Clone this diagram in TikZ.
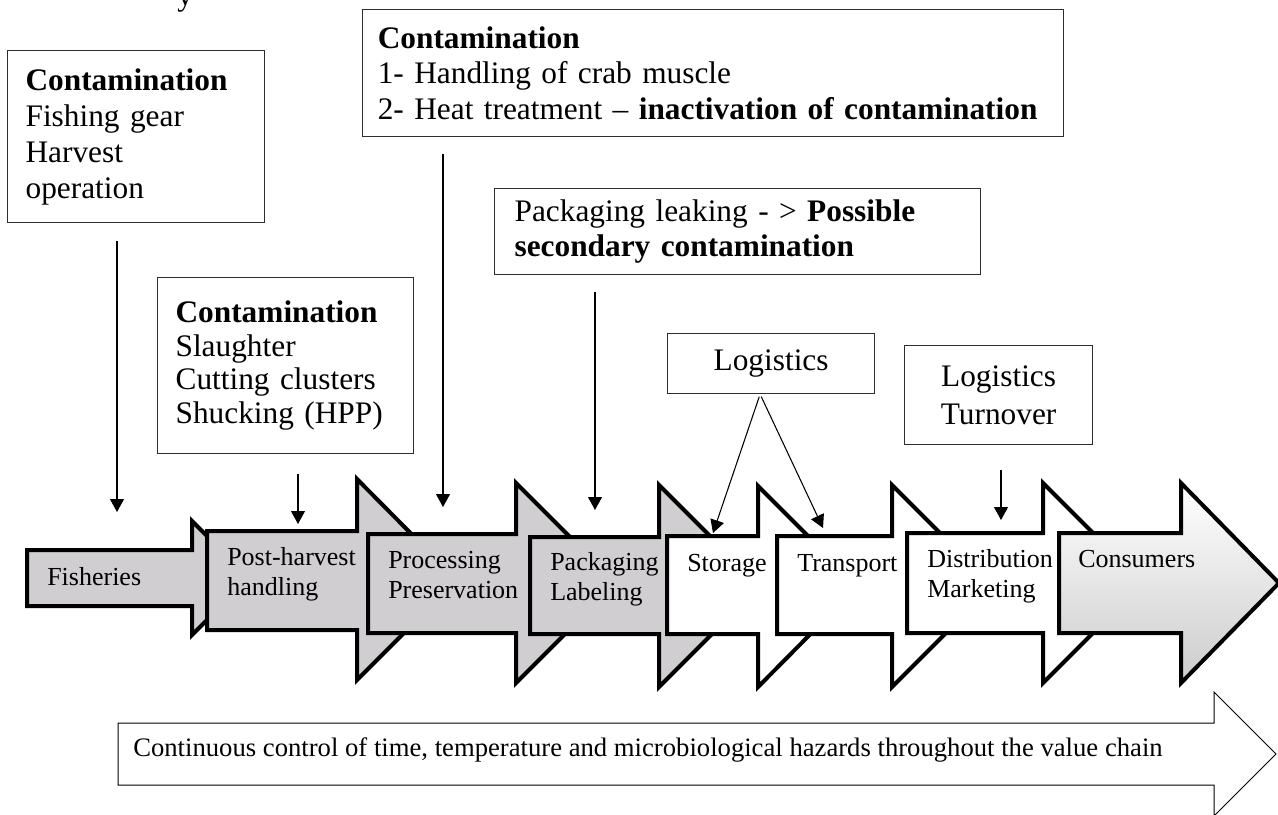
\documentclass[tikz,border=0pt]{standalone}
\usepackage{fontspec}
\setmainfont{Liberation Serif}
\usetikzlibrary{arrows.meta}
\definecolor{stagegray}{RGB}{208,206,208}
\definecolor{boxline}{RGB}{45,45,45}

\begin{document}
\begin{tikzpicture}[x=0.75pt,y=0.75pt,yscale=-1,xscale=1,
	stage/.style={draw=black,line width=3pt,fill=#1},
	stage/.default=stagegray,
	stagelabel/.style={anchor=north west,inner sep=0pt,align=left,font=\fontsize{19.5}{22.5}\selectfont},
	notebox/.style={draw=boxline,line width=0.9pt,anchor=north west,inner ysep=0pt,align=left,font=\fontsize{23.5}{27}\selectfont},
	conn/.style={line width=0.8pt,-{Triangle[length=9.75pt,width=10.5pt]},shorten <=#1},
	conn/.default=13.5pt]
	\useasboundingbox (0,0) rectangle (1278,814);

	% Cut-off line of text above
	\node (topline) [anchor=base west,inner sep=0pt,font=\fontsize{23.5}{27}\selectfont] at (177,5) {y};

	% Value chain arrow
	\draw [line width=0.75pt,fill=white] (118,723) -- (1214,723) -- (1214,692) -- (1276,754) -- (1214,816) -- (1214,785) -- (118,785) -- cycle ;
	\node (control) [anchor=base west,inner sep=0pt,font=\fontsize{20}{23}\selectfont] at (133,756) {Continuous control of time, temperature and microbiological hazards throughout the value chain};

	% Stage arrows
	\draw [stage] (27,550) -- (192,550) -- (192,521) -- (249,578) -- (192,635) -- (192,606) -- (27,606) -- cycle ;
	\node (fish) [stagelabel] at (47,567) {Fisheries};
	\draw [stage] (207,531) -- (357,531) -- (357,479) -- (457,580) -- (357,680) -- (357,630) -- (207,630) -- cycle ;
	\node (post) [stagelabel] at (227,547) {Post-harvest\\handling};
	\draw [stage] (368,534) -- (516,534) -- (516,483) -- (616,583) -- (516,683) -- (516,633) -- (368,633) -- cycle ;
	\node (proc) [stagelabel] at (388,551) {Processing\\Preservation};
	\draw [stage] (530,537) -- (659,537) -- (659,485) -- (760,586) -- (659,687) -- (659,634) -- (530,634) -- cycle ;
	\node (pack) [stagelabel] at (550,552) {Packaging\\Labeling};
	\draw [stage=white] (667,536) -- (758,536) -- (758,486) -- (858,586) -- (758,687) -- (758,634) -- (667,634) -- cycle ;
	\node (stor) [stagelabel] at (687,554) {Storage};
	\draw [stage=white] (777,536) -- (892,536) -- (892,485) -- (993,586) -- (892,687) -- (892,634) -- (777,634) -- cycle ;
	\node (trans) [stagelabel] at (797,554) {Transport};
	\draw [stage=white] (907,533) -- (1043,533) -- (1043,483) -- (1143,583) -- (1043,683) -- (1043,633) -- (907,633) -- cycle ;
	\node (dist) [stagelabel] at (927,549) {Distribution\\Marketing};
	\draw [stage=white,top color=white,middle color=black!4,bottom color=black!20] (1059,533) -- (1181,533) -- (1181,483) -- (1279,583) -- (1181,683) -- (1181,633) -- (1059,633) -- cycle ;
	\node (cons) [stagelabel] at (1078,550) {Consumers};

	% Hazard boxes
	\node (fishbox) [notebox,inner xsep=13.5pt,text width=165.75pt,minimum height=129pt] at (7,50) {\textbf{Contamination}\\Fishing gear\\Harvest\\operation};
	\node (crabbox) [notebox,inner xsep=11.4pt,text width=503pt,minimum height=95.25pt,font=\fontsize{23.5}{26.6}\selectfont] at (362,9) {\textbf{Contamination}\\1- Handling of crab muscle\\2- Heat treatment -- \textbf{inactivation of contamination}};
	\node (leakbox) [notebox,inner xsep=15pt,text width=334.5pt,minimum height=64.5pt,font=\fontsize{23.5}{26.6}\selectfont] at (494,188) {Packaging leaking - > \textbf{Possible}\\\textbf{secondary contamination}};
	\node (slaughterbox) [notebox,inner xsep=13.5pt,text width=165pt,minimum height=132pt,font=\fontsize{23.5}{25.3}\selectfont] at (157,277) {\textbf{Contamination}\\Slaughter\\Cutting clusters\\Shucking (HPP)};
	\node (logbox) [notebox,inner xsep=0pt,text width=155.25pt,minimum height=45pt,align=center] at (667,333) {Logistics};
	\node (turnbox) [notebox,inner xsep=0pt,text width=141pt,minimum height=74.25pt,align=center,font=\fontsize{23.5}{28.5}\selectfont] at (904,345) {Logistics\\Turnover};

	% Arrow ends on the chain
	\coordinate (fish-in) at (117,512);
	\coordinate (post-in) at (298,524);
	\coordinate (proc-in) at (443,507);
	\coordinate (pack-in) at (595,510);
	\coordinate (stor-in) at (713,533);
	\coordinate (trans-in) at (823,528);
	\coordinate (dist-in) at (1001,520);

	% Connections
	\draw [conn] (fishbox.south -| fish-in) -- (fish-in);
	\draw [conn=15pt] (slaughterbox.south -| post-in) -- (post-in);
	\draw [conn=12.75pt] (crabbox.south -| proc-in) -- (proc-in);
	\draw [conn=12.75pt] (leakbox.south -| pack-in) -- (pack-in);
	\draw [conn=2pt] ([xshift=-8.25pt]logbox.south) -- (stor-in);
	\draw [conn=2pt] ([xshift=-8.25pt]logbox.south) -- (trans-in);
	\draw [conn=18.75pt] (turnbox.south -| dist-in) -- (dist-in);

\end{tikzpicture}
\end{document}
